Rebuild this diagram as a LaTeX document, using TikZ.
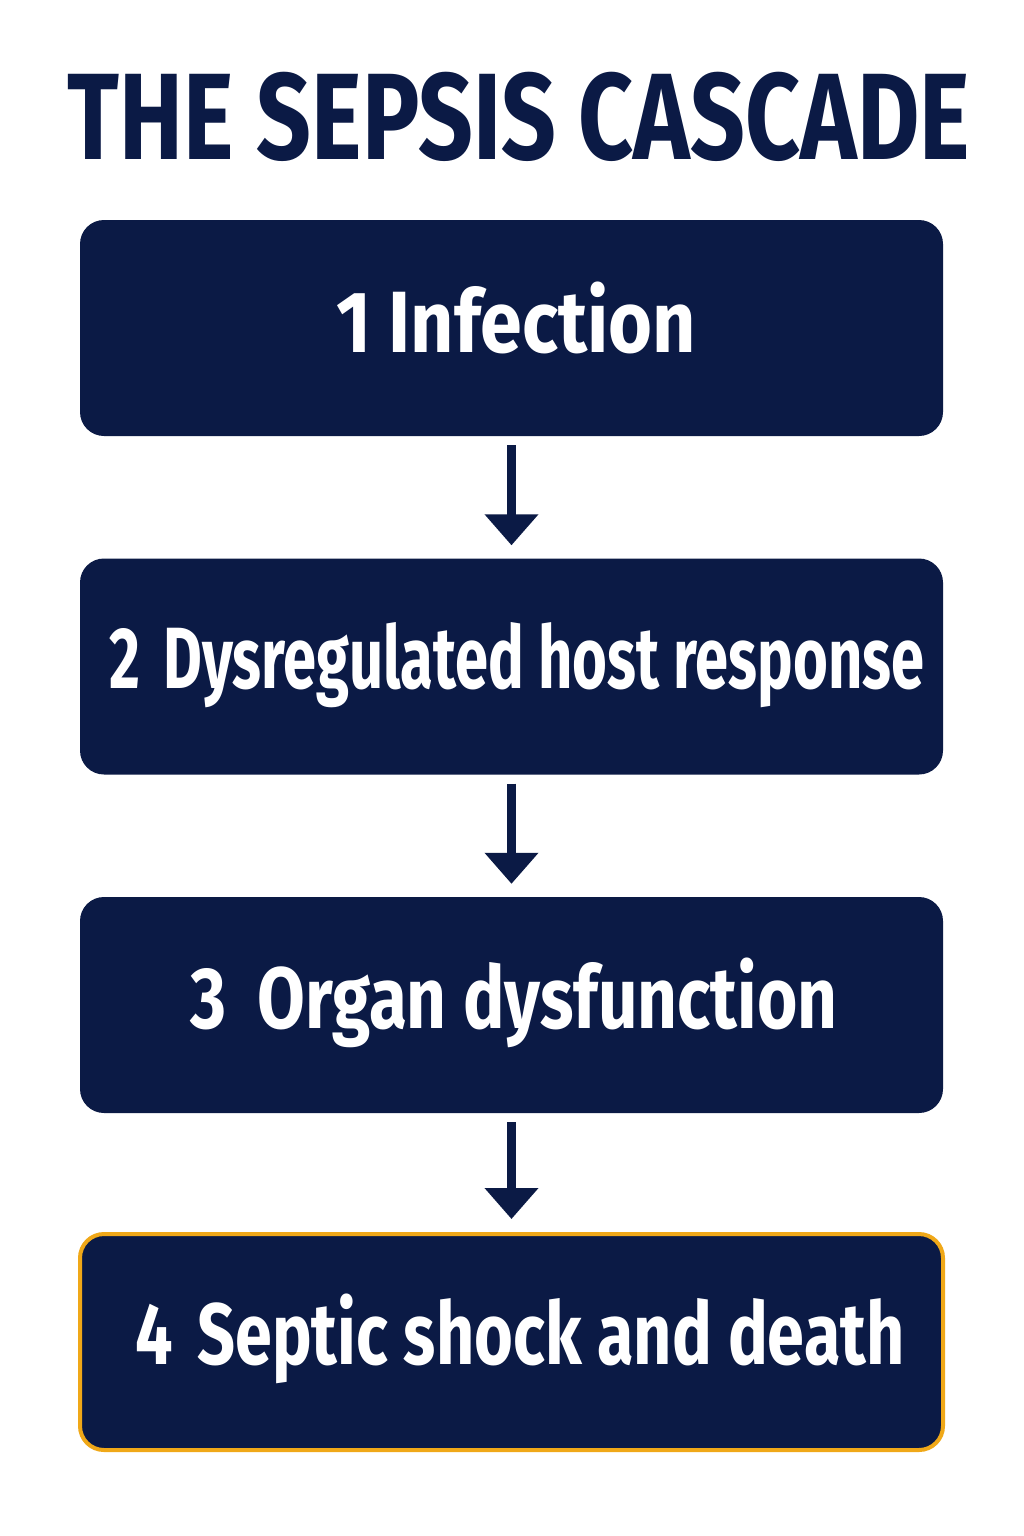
\documentclass[tikz,border=0pt]{standalone}
\usepackage{fontspec}
\setmainfont{Fira Sans}
\newfontfamily\cond{Fira Sans}[FakeStretch=0.78]
\usetikzlibrary{arrows.meta}
\definecolor{navy}{HTML}{0B1A45}
\definecolor{amber}{HTML}{F0A818}
\tikzset{
  stepbox/.style={fill=navy, rounded corners=24pt, minimum width=863pt, minimum height=216pt, inner sep=0pt},
  steptext/.style={text=white, font=\cond\bfseries\fontsize{87}{90}\selectfont, anchor=base, inner sep=0pt},
  flowarrow/.style={draw=navy, line width=9pt, -{Triangle[width=52pt,length=31pt]}, shorten <=9pt, shorten >=13pt}
}
\begin{document}
\begin{tikzpicture}[x=1pt,y=-1pt]
\useasboundingbox[fill=white] (0,0) rectangle (1024,1536);
\node[text=navy, font=\cond\bfseries\fontsize{123}{126}\selectfont, anchor=base, inner sep=0pt] (title) at (519,160) {THE SEPSIS CASCADE};
\node[stepbox] (s1) at (511.5,328) {};
\node[steptext] (t1) at (516,352) {\scalebox{1.11}[1]{1 Infection}};
\node[stepbox] (s2) at (511.5,666.5) {};
\node[steptext] (t2) at (517,688) {\scalebox{0.88}[1]{2\hspace{0.12em} Dysregulated host response}};
\node[stepbox] (s3) at (511.5,1005) {};
\node[steptext] (t3) at (514,1028) {\scalebox{1.02}[1]{3\hspace{0.35em}Organ dysfunction}};
\node[stepbox, draw=amber, line width=4pt] (s4) at (511.5,1342) {};
\node[steptext] (t4) at (520,1364) {\scalebox{0.98}[1]{4\hspace{0.1em} Septic shock and death}};
\draw[flowarrow] (s1.south) -- (s2.north);
\draw[flowarrow] (s2.south) -- (s3.north);
\draw[flowarrow] (s3.south) -- (s4.north);
\end{tikzpicture}
\end{document}
